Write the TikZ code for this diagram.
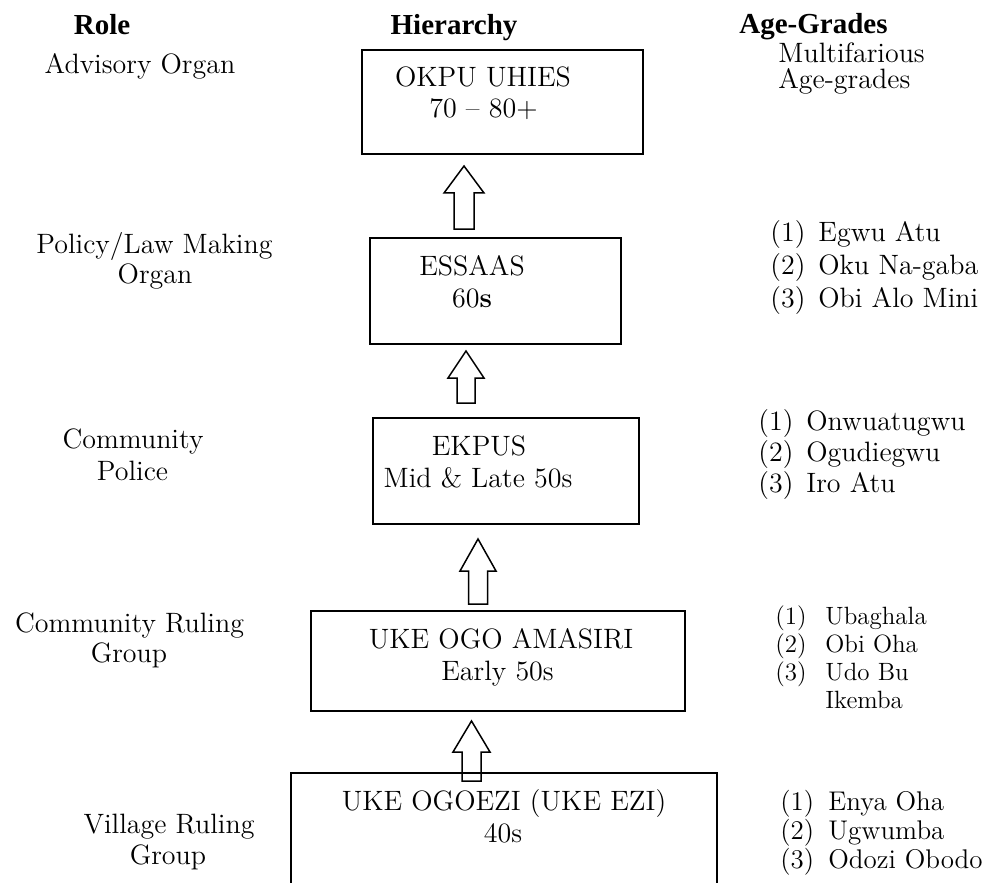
\documentclass[tikz,border=0pt]{standalone}
\usepackage{fontspec}
\newfontfamily\hdrfont{Liberation Serif}
\newcommand\blkarrow[6]{% cx, tip y, head base y, bottom y, head half, shaft half
  \draw[blockarrow] (#1,#2) -- ({#1+#5},#3) -- ({#1+#6},#3) -- ({#1+#6},#4)
    -- ({#1-#6},#4) -- ({#1-#6},#3) -- ({#1-#5},#3) -- cycle;}
\begin{document}
\begin{tikzpicture}[x=0.5pt,y=-0.5pt,
  txt/.style={inner sep=0pt,anchor=base,font=\fontsize{14}{16}\selectfont},
  lst/.style={inner sep=0pt,anchor=base west,font=\fontsize{14}{16}\selectfont},
  lstsmall/.style={lst,font=\fontsize{12.5}{14}\selectfont},
  lstmid/.style={lst,font=\fontsize{13.5}{15}\selectfont},
  hdr/.style={inner sep=0pt,anchor=base,font=\hdrfont\bfseries\fontsize{14.5}{17}\selectfont},
  boxframe/.style={draw,line width=1pt,inner sep=0pt},
  blockarrow/.style={draw,line width=0.75pt,line join=miter}]
\useasboundingbox (0,0) rectangle (983,882);

% headers
\node[hdr] (hrole) at (102,35) {Role};
\node[hdr] (hhier) at (454,35) {Hierarchy};
\node[hdr] (hage) at (813.5,34) {Age-Grades};

% boxes
\node[boxframe,minimum width=140.5pt,minimum height=52pt] (b1) at (502.5,102) {};
\node[boxframe,minimum width=125.5pt,minimum height=53pt] (b2) at (495.5,291) {};
\node[boxframe,minimum width=133pt,minimum height=53pt] (b3) at (506,471) {};
\node[boxframe,minimum width=187pt,minimum height=50pt] (b4) at (498,661) {};
\coordinate (b5nw) at (291,773);
\coordinate (b5ne) at (717,773);
\draw[line width=1pt] (b5nw |- 0,884) -- (b5nw) -- (b5ne) -- (b5ne |- 0,884);

% arrows
\blkarrow{464}{166}{193}{229}{20}{10}
\blkarrow{466}{351}{378}{403}{18}{9}
\blkarrow{478}{539}{571}{604}{18}{9.5}
\blkarrow{471.5}{721}{752}{781}{18.5}{9.5}

% box texts
\node[txt] (t1a) at (483,87) {OKPU UHIES};
\node[txt] (t1b) at (483.5,118) {70 -- 80+};
\node[txt] (t2a) at (472,275) {ESSAAS};
\node[txt] (t2b) at (472,307) {60\textbf{s}};
\node[txt] (t3a) at (479,455) {EKPUS};
\node[txt] (t3b) at (478,487) {Mid \& Late 50s};
\node[txt] (t4a) at (501,648) {UKE OGO AMASIRI};
\node[txt] (t4b) at (497.5,680) {Early 50s};
\node[txt] (t5a) at (504,810) {UKE OGOEZI (UKE EZI)};
\node[txt] (t5b) at (503,842) {40s};

% roles
\node[txt] (r1) at (140,74) {Advisory Organ};
\node[txt] (r2a) at (154.5,253) {Policy/Law Making};
\node[txt] (r2b) at (155,283) {Organ};
\node[txt] (r3a) at (133,448) {Community};
\node[txt] (r3b) at (132.5,480) {Police};
\node[txt] (r4a) at (129.5,632) {Community Ruling};
\node[txt] (r4b) at (129,662) {Group};
\node[txt] (r5a) at (169,833) {Village Ruling};
\node[txt] (r5b) at (168,864) {Group};

% age-grades
\node[inner sep=0pt,anchor=north west,align=left,
      font=\fontsize{14}{13}\selectfont] (a1) at (778,42.5)
      {Multifarious\\Age-grades};

\node[lst] (a2a) at (770,242) {\makebox[24pt][l]{(1)}Egwu Atu};
\node[lst] (a2b) at (770,274.5) {\makebox[24pt][l]{(2)}Oku Na-gaba};
\node[lst] (a2c) at (770,307) {\makebox[24pt][l]{(3)}Obi Alo Mini};

\node[lst] (a3a) at (758,430) {\makebox[24pt][l]{(1)}Onwuatugwu};
\node[lst] (a3b) at (758,461) {\makebox[24pt][l]{(2)}Ogudiegwu};
\node[lst] (a3c) at (758,492) {\makebox[24pt][l]{(3)}Iro Atu};

\node[lstsmall] (a4a) at (775,624) {\makebox[25pt][l]{(1)}Ubaghala};
\node[lstsmall] (a4b) at (775,652) {\makebox[25pt][l]{(2)}Obi Oha};
\node[lstsmall] (a4c) at (775,680) {\makebox[25pt][l]{(3)}Udo Bu};
\node[lstsmall] (a4d) at (825,708) {Ikemba};

\node[lstmid] (a5a) at (780,810) {\makebox[24pt][l]{(1)}Enya Oha};
\node[lstmid] (a5b) at (780,839) {\makebox[24pt][l]{(2)}Ugwumba};
\node[lstmid] (a5c) at (780,868) {\makebox[24pt][l]{(3)}Odozi Obodo};
\end{tikzpicture}
\end{document}
